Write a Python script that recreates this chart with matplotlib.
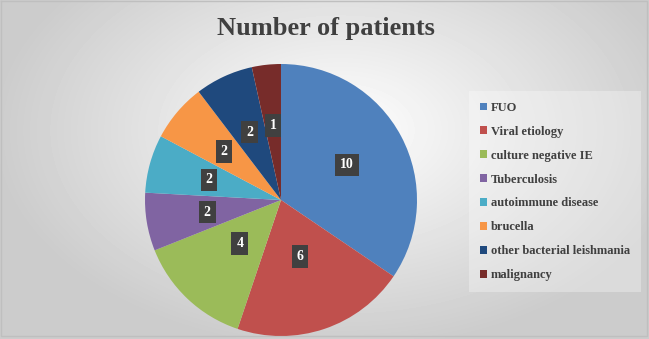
import numpy as np
import matplotlib
matplotlib.use("Agg")
import matplotlib.pyplot as plt
from matplotlib.patches import Patch

# data
categories = ["FUO", "Viral etiology", "culture negative IE", "Tuberculosis",
              "autoimmune disease", "brucella", "other bacterial leishmania",
              "malignancy"]
patients = [10, 6, 4, 2, 2, 2, 2, 1]
colors = ["#4F81BD", "#C0504D", "#9BBB59", "#8064A2",
          "#4BACC6", "#F79646", "#1F497D", "#772C2A"]

W, H = 649, 339
fig = plt.figure(figsize=(W / 100, H / 100), dpi=100)

# background: soft radial grey gradient
bg = fig.add_axes([0, 0, 1, 1], zorder=-5)
yy, xx = np.mgrid[0:H, 0:W]
d = np.sqrt(((xx - 340) / 380.0) ** 2 + ((yy - 130) / 240.0) ** 2)
shade = np.clip(1.0 - 0.22 * d, 0.8, 1.0)
bg.imshow(shade, cmap="gray", vmin=0, vmax=1, aspect="auto",
          extent=[0, W, H, 0], interpolation="bilinear")
bg.plot([1, W - 2, W - 2, 1, 1], [1, 1, H - 3, H - 3, 1], color="#bfbfbf", lw=1)
bg.set_xlim(0, W)
bg.set_ylim(H, 0)
bg.axis("off")

# pie
cx, cy, r = 281, 200, 136
ax = fig.add_axes([(cx - r) / W, (H - cy - r) / H, 2 * r / W, 2 * r / H])
wedges, _ = ax.pie(patients, colors=colors, startangle=90, counterclock=False,
                   radius=1, wedgeprops=dict(linewidth=0))
ax.set_xlim(-1, 1)
ax.set_ylim(-1, 1)
ax.axis("off")

for w, v in zip(wedges, patients):
    mid = np.deg2rad((w.theta1 + w.theta2) / 2)
    rr = 0.55
    if v >= 4 and v < 10:
        rr = 0.44
    ax.text(rr * np.cos(mid), rr * np.sin(mid), str(v), ha="center", va="center",
            color="white", fontsize=10, fontweight="bold", family="Liberation Serif",
            bbox=dict(boxstyle="square,pad=0.35", fc="#404040", ec="none"))

fig.text(326 / W, 1 - 29 / H, "Number of patients", ha="center", va="center",
         fontsize=19, fontweight="bold", family="Liberation Serif", color="#404040")

handles = [Patch(facecolor=c, edgecolor="none") for c in colors]
leg = fig.legend(handles, categories, loc="upper left",
                 bbox_to_anchor=(473 / W, 1 - 95 / H), frameon=True,
                 prop=dict(family="Liberation Serif", size=9, weight="bold"),
                 handlelength=0.6, handleheight=0.6, handletextpad=0.3,
                 labelspacing=0.95, borderpad=0.55, borderaxespad=0)
leg.get_frame().set_facecolor("white")
leg.get_frame().set_alpha(0.3)
leg.get_frame().set_edgecolor("none")
leg.get_frame().set_boxstyle("square")
for t in leg.get_texts():
    t.set_color("#404040")

fig.savefig("out.png", dpi=100)
